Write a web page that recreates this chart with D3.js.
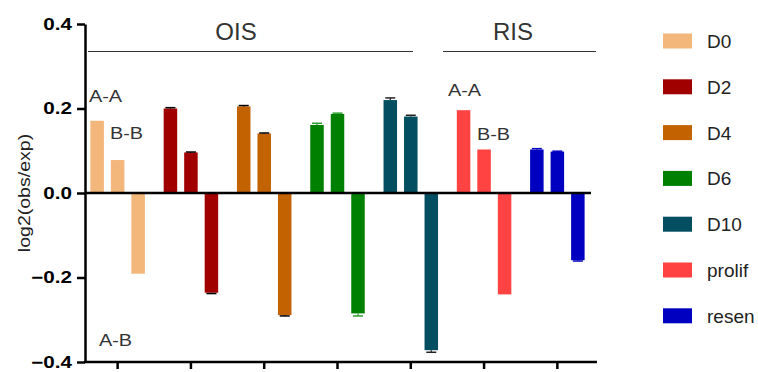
<!DOCTYPE html>
<html>
<head>
<meta charset="utf-8">
<script src="https://cdn.jsdelivr.net/npm/d3@7"></script>
<style>
  body { margin: 0; background: #fff; }
  text { font-family: Arial, "Liberation Sans", sans-serif; }
</style>
</head>
<body>
<div id="chart"></div>
<script>
// groups and their three comparisons
const groups = ["D0", "D2", "D4", "D6", "D10", "prolif", "resen"];
const pairs = ["A-A", "B-B", "A-B"];
const colors = ["#F3B67B", "#A00000", "#C26200", "#008000", "#034E61", "#FF4343", "#0000C0"];
const errColors = ["#F3B67B", "#000000", "#000000", "#2E9E2E", "#222222", "#FF4343", "#0000C0"];

const valAA = [0.171, 0.200, 0.205, 0.161, 0.220, 0.196, 0.103];
const valBB = [0.078, 0.096, 0.141, 0.187, 0.181, 0.103, 0.098];
const valAB = [-0.191, -0.236, -0.289, -0.285, -0.372, -0.240, -0.159];
const errAA = [0, 0.002, 0.002, 0.004, 0.005, 0, 0.002];
const errBB = [0, 0.001, 0.001, 0.002, 0.003, 0, 0.001];
const errAB = [0, 0.002, 0.002, 0.006, 0.005, 0, 0.002];

const yTicks = [0.4, 0.2, 0.0, -0.2, -0.4];

const svg = d3.select("#chart").append("svg")
  .attr("width", 758)
  .attr("height", 372);

const y = d3.scaleLinear().domain([-0.4, 0.4]).range([362, 24]);
const x = d3.scaleBand().domain(groups).range([81, 594]);
const xs = d3.scalePoint().domain(pairs).range([-20.5, 20.5]);
const barW = 13.5;

// the source figure has its small text a bit wide
let widen = (sel, k) => sel.each(function () {
  let w = this.getComputedTextLength();
  d3.select(this).attr("textLength", w * k).attr("lengthAdjust", "spacingAndGlyphs");
});

// flatten into bar records
let bars = [];
groups.forEach((g, i) => {
  [valAA, valBB, valAB].forEach((arr, j) => {
    let err = [errAA, errBB, errAB][j][i];
    bars.push({ g: g, i: i, p: pairs[j], v: arr[i], e: err });
  });
});

let barG = svg.append("g");
barG.selectAll("rect")
  .data(bars)
  .enter()
  .append("rect")
  .attr("x", d => x(d.g) + x.bandwidth() / 2 + xs(d.p) - barW / 2)
  .attr("width", barW)
  .attr("y", d => d.v > 0 ? y(d.v) : y(0))
  .attr("height", d => Math.abs(y(d.v) - y(0)))
  .attr("fill", d => colors[d.i]);

// error bars (just caps, they are tiny)
let errG = svg.append("g");
bars.filter(d => d.e > 0).forEach(d => {
  let cx = x(d.g) + x.bandwidth() / 2 + xs(d.p);
  let far = d.v > 0 ? d.v + d.e : d.v - d.e;
  errG.append("line")
    .attr("x1", cx).attr("x2", cx)
    .attr("y1", y(d.v)).attr("y2", y(far))
    .attr("stroke", errColors[d.i]).attr("stroke-width", 1.2);
  errG.append("line")
    .attr("x1", cx - 5).attr("x2", cx + 5)
    .attr("y1", y(far)).attr("y2", y(far))
    .attr("stroke", errColors[d.i]).attr("stroke-width", 1.5);
});

// y axis
let yAxis = svg.append("g")
  .attr("transform", "translate(85,0)")
  .call(d3.axisLeft(y).tickValues(yTicks).tickFormat(d3.format(".1f")).tickSize(8).tickSizeOuter(0));
yAxis.select(".domain").attr("stroke-width", 2.5);
yAxis.selectAll(".tick line").attr("stroke-width", 2.5);
yAxis.selectAll(".tick text")
  .attr("font-size", 16.5)
  .attr("font-weight", "bold")
  .attr("fill", "#000")
  .attr("x", -13)
  .call(widen, 1.25);

// bottom axis
let xAxis = svg.append("g")
  .attr("transform", "translate(0,362)")
  .call(d3.axisBottom(x).tickSize(7).tickSizeOuter(0).tickFormat(""));
xAxis.select(".domain").attr("d", "M84,0H597").attr("stroke-width", 2.5);
xAxis.selectAll(".tick line").attr("stroke-width", 2.5);

// zero line
svg.append("line")
  .attr("x1", 85).attr("x2", 591)
  .attr("y1", y(0)).attr("y2", y(0))
  .attr("stroke", "#000").attr("stroke-width", 2.5);

// y label
svg.append("text")
  .attr("transform", `translate(29.5,${y(0)}) rotate(-90)`)
  .attr("text-anchor", "middle")
  .attr("font-size", 16)
  .attr("fill", "#222")
  .text("log2(obs/exp)")
  .call(widen, 1.22);

// OIS / RIS headers
let hdr = [
  { t: "OIS", x1: 88, x2: 413, cx: 236 },
  { t: "RIS", x1: 443, x2: 596, cx: 513 }
];
hdr.forEach(h => {
  svg.append("line")
    .attr("x1", h.x1).attr("x2", h.x2)
    .attr("y1", 51.5).attr("y2", 51.5)
    .attr("stroke", "#333").attr("stroke-width", 1);
  svg.append("text")
    .attr("x", h.cx)
    .attr("y", 40)
    .attr("text-anchor", "middle")
    .attr("font-size", 24)
    .attr("fill", "#333")
    .text(h.t);
});

// pair labels
let lbl = [
  { t: "A-A", x: 89, y: 102 },
  { t: "B-B", x: 110, y: 139 },
  { t: "A-B", x: 99, y: 346 },
  { t: "A-A", x: 448, y: 96 },
  { t: "B-B", x: 477, y: 139.5 }
];
svg.append("g").selectAll("text")
  .data(lbl)
  .enter()
  .append("text")
  .attr("x", d => d.x)
  .attr("y", d => d.y)
  .attr("font-size", 16)
  .attr("fill", "#333")
  .text(d => d.t)
  .call(widen, 1.24);

// legend
let leg = svg.append("g").attr("transform", "translate(663,41)");
groups.forEach((g, i) => {
  let row = leg.append("g").attr("transform", `translate(0,${i * 45.8})`);
  row.append("rect")
    .attr("x", 0).attr("y", -7.5)
    .attr("width", 29).attr("height", 15)
    .attr("fill", colors[i]);
  row.append("text")
    .attr("x", 44).attr("y", 7)
    .attr("font-size", 19)
    .attr("fill", "#222")
    .text(g);
});
</script>
</body>
</html>
